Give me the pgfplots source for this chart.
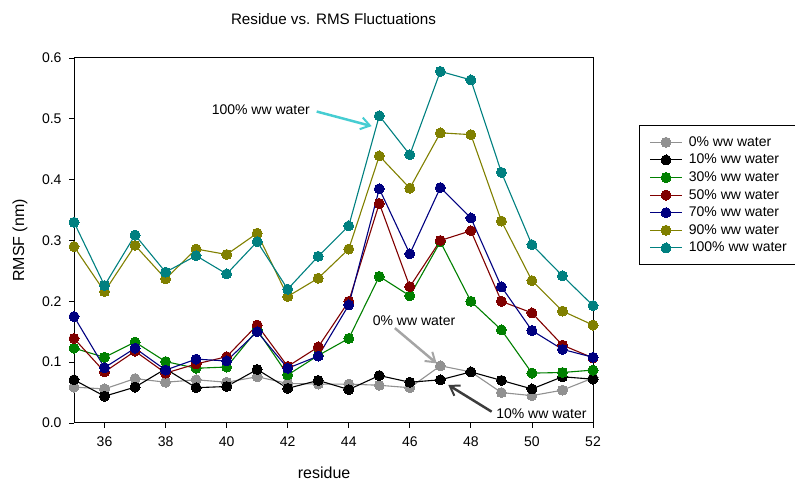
\documentclass[border=0pt]{standalone}
\usepackage{fontspec}
\setmainfont{Liberation Sans}
\usepackage{pgfplots}
\usepackage{pgfplotstable}
\pgfplotsset{compat=1.18}
\usetikzlibrary{arrows.meta}
\definecolor{cgray}{RGB}{145,145,145}
\definecolor{cgreen}{RGB}{0,128,0}
\definecolor{cred}{RGB}{128,0,0}
\definecolor{cnavy}{RGB}{0,0,128}
\definecolor{colive}{RGB}{128,128,0}
\definecolor{cteal}{RGB}{0,128,128}
\definecolor{ccyan}{RGB}{70,205,210}
\definecolor{carrgray}{RGB}{165,165,165}
\definecolor{carrdark}{RGB}{60,60,60}

\pgfplotstableread{
res  w0    w10   w30   w50   w70   w90   w100
35   0.059 0.071 0.123 0.139 0.175 0.290 0.330
36   0.056 0.044 0.108 0.084 0.091 0.216 0.226
37   0.073 0.059 0.133 0.118 0.123 0.292 0.309
38   0.067 0.089 0.101 0.082 0.087 0.237 0.248
39   0.071 0.058 0.090 0.097 0.105 0.286 0.275
40   0.067 0.060 0.092 0.109 0.102 0.277 0.245
41   0.076 0.088 0.153 0.161 0.150 0.312 0.298
42   0.065 0.057 0.079 0.093 0.090 0.208 0.220
43   0.064 0.070 0.111 0.125 0.110 0.238 0.274
44   0.064 0.055 0.139 0.200 0.194 0.286 0.324
45   0.062 0.078 0.241 0.361 0.385 0.439 0.505
46   0.058 0.067 0.209 0.224 0.278 0.386 0.441
47   0.094 0.071 0.298 0.300 0.387 0.477 0.578
48   0.084 0.084 0.200 0.316 0.337 0.474 0.564
49   0.050 0.070 0.153 0.200 0.224 0.332 0.412
50   0.045 0.056 0.082 0.181 0.152 0.234 0.293
51   0.054 0.076 0.083 0.128 0.121 0.184 0.242
52   0.074 0.072 0.087 0.107 0.108 0.161 0.193
}\datatable

\begin{document}
\begin{tikzpicture}
\useasboundingbox (0,0) rectangle (795pt,481pt);
\begin{axis}[
  at={(74pt,58pt)}, anchor=south west,
  scale only axis, width=519pt, height=365pt,
  xmin=35, xmax=52, ymin=0, ymax=0.6,
  xtick={36,38,...,52},
  ytick={0,0.1,...,0.6},
  tick pos=left,
  tick align=outside,
  major tick length=5pt,
  minor tick num=0,
  axis line style={line width=1pt, black},
  tick style={line width=0.8pt, black},
  clip=false,
  font=\fontsize{14}{16}\selectfont,
  ticklabel style={font=\fontsize{14}{16}\selectfont},
  xticklabel style={yshift=-5pt},
  yticklabel style={xshift=-4pt, /pgf/number format/fixed, /pgf/number format/fixed zerofill, /pgf/number format/precision=1},
  /pgf/number format/assume math mode=true,
  title={Residue vs. RMS Fluctuations},
  title style={at={(axis description cs:0.5,1)}, anchor=center, yshift=33pt, font=\fontsize{15.2}{18}\selectfont},
  xlabel={residue},
  xlabel style={at={(axis description cs:0.482,-0.137)}, anchor=center, font=\fontsize{16}{18}\selectfont},
  ylabel={RMSF (nm)},
  ylabel style={at={(axis description cs:-0.104,0.5)}, anchor=center, font=\fontsize{16}{18}\selectfont},
  every axis plot/.append style={line width=1.1pt, mark=*, mark size=5pt},
  legend style={at={(axis description cs:1.0886,0.8164)}, anchor=north west,
    draw=black, line width=1pt, font=\fontsize{14}{16}\selectfont,
    inner xsep=10pt, inner ysep=8pt, row sep=0pt, column sep=5pt,
    nodes={inner sep=1.3pt, text height=11.5pt, text depth=3.5pt}},
  legend cell align=left,
  legend image code/.code={\draw[mark repeat=2,mark phase=2,#1] plot coordinates {(0pt,0pt) (16pt,0pt) (32pt,0pt)};},
]
\addplot[color=cgray, mark options={fill=cgray, draw=cgray, line width=0pt}] table[x=res,y=w0]{\datatable};
\addlegendentry{0\% ww water}
\addplot[color=black, mark options={fill=black, draw=black, line width=0pt}] table[x=res,y=w10]{\datatable};
\addlegendentry{10\% ww water}
\addplot[color=cgreen, mark options={fill=cgreen, draw=cgreen, line width=0pt}] table[x=res,y=w30]{\datatable};
\addlegendentry{30\% ww water}
\addplot[color=cred, mark options={fill=cred, draw=cred, line width=0pt}] table[x=res,y=w50]{\datatable};
\addlegendentry{50\% ww water}
\addplot[color=cnavy, mark options={fill=cnavy, draw=cnavy, line width=0pt}] table[x=res,y=w70]{\datatable};
\addlegendentry{70\% ww water}
\addplot[color=colive, mark options={fill=colive, draw=colive, line width=0pt}] table[x=res,y=w90]{\datatable};
\addlegendentry{90\% ww water}
\addplot[color=cteal, mark options={fill=cteal, draw=cteal, line width=0pt}] table[x=res,y=w100]{\datatable};
\addlegendentry{100\% ww water}

\node[font=\fontsize{14}{16}\selectfont] at (axis cs:41.12,0.515) {100\% ww water};
\draw[ccyan, line width=2.5pt, -{Straight Barb[length=9pt, width=12pt, line width=2pt]}] (axis cs:42.95,0.512) -- (axis cs:44.75,0.488);
\node[font=\fontsize{14}{16}\selectfont] at (axis cs:46.14,0.169) {0\% ww water};
\draw[carrgray, line width=2.5pt, -{Straight Barb[length=9pt, width=12pt, line width=2pt]}] (axis cs:45.51,0.156) -- (axis cs:46.88,0.098);
\node[font=\fontsize{14}{16}\selectfont] at (axis cs:50.31,0.016) {10\% ww water};
\draw[carrdark, line width=2.5pt, -{Straight Barb[length=9pt, width=12pt, line width=2pt]}] (axis cs:48.68,0.0186) -- (axis cs:47.26,0.0625);
\end{axis}
\end{tikzpicture}
\end{document}
